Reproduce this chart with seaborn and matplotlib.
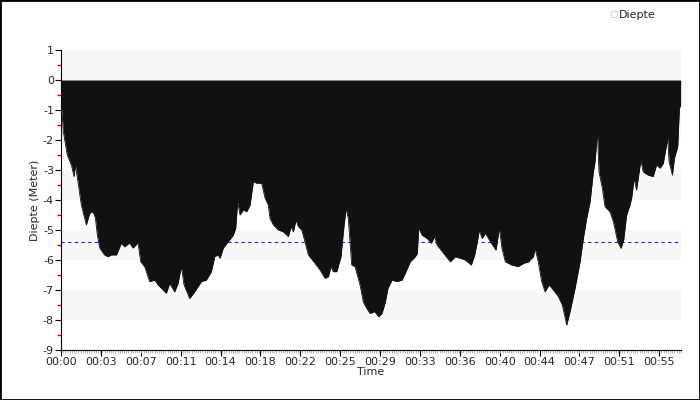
"""Dive profile: depth over time."""

import matplotlib

matplotlib.use("Agg")
import matplotlib.pyplot as plt
import seaborn as sns
from matplotlib.patches import Patch, Rectangle
from matplotlib.ticker import FuncFormatter, MultipleLocator

# minutes since start
times = [
    0.0, 0.12, 0.21, 0.58, 0.95, 1.2, 1.32, 1.56, 1.87, 2.33, 2.64, 2.94,
    3.16, 3.34, 3.56, 4.0, 4.32, 4.63, 5.09, 5.55, 5.85, 6.31, 6.62, 7.08,
    7.33, 7.69, 8.15, 8.61, 8.92, 9.68, 9.99, 10.45, 10.76, 11.06, 11.31,
    11.83, 12.29, 12.9, 13.36, 13.82, 14.13, 14.43, 14.62, 14.92, 15.38,
    15.84, 16.06, 16.24, 16.46, 16.76, 17.07, 17.38, 17.68, 17.99, 18.45,
    18.76, 19.06, 19.21, 19.52, 19.98, 20.44, 20.9, 21.15, 21.36, 21.6,
    21.82, 22.13, 22.43, 22.74, 23.35, 23.81, 24.27, 24.58, 24.82, 25.04,
    25.35, 25.74, 25.96, 26.2, 26.41, 26.73, 27.03, 27.49, 27.79, 28.1,
    28.41, 28.84, 29.2, 29.51, 29.82, 30.06, 30.43, 30.89, 31.35, 31.65,
    32.11, 32.57, 32.76, 32.88, 33.19, 33.65, 34.05, 34.35, 34.57, 35.18,
    35.79, 36.25, 36.71, 37.17, 37.72, 38.03, 38.25, 38.46, 38.71, 39.02,
    39.47, 39.99, 40.3, 40.54, 40.85, 41.46, 42.02, 42.54, 43.0, 43.12,
    43.43, 43.58, 43.88, 44.19, 44.5, 44.87, 45.26, 45.72, 46.09, 46.49,
    46.8, 47.26, 47.72, 48.02, 48.33, 48.64, 48.94, 49.1, 49.31, 49.46,
    49.77, 50.01, 50.47, 50.78, 51.18, 51.48, 51.73, 52.0, 52.3, 52.46,
    52.69, 52.91, 53.31, 53.52, 53.98, 54.44, 54.75, 55.07, 55.37, 55.78,
    55.9, 56.21, 56.39, 56.7, 56.85, 56.97,
]
# depth in meters (negative = below surface)
depths = [
    -0.75, -1.22, -1.72, -2.5, -2.83, -3.22, -2.83, -3.39, -4.17, -4.83,
    -4.44, -4.39, -4.6, -5.17, -5.6, -5.83, -5.89, -5.83, -5.83, -5.44,
    -5.56, -5.43, -5.6, -5.43, -6.06, -6.22, -6.72, -6.67, -6.83, -7.11,
    -6.78, -7.06, -6.78, -6.22, -6.83, -7.28, -7.06, -6.72, -6.67, -6.39,
    -5.89, -5.83, -5.94, -5.6, -5.39, -5.17, -4.94, -4.06, -4.5, -4.33,
    -4.39, -4.17, -3.39, -3.44, -3.44, -3.94, -4.17, -4.61, -4.83, -5.0,
    -5.06, -5.22, -4.89, -5.06, -4.67, -4.89, -5.0, -5.39, -5.83, -6.11,
    -6.33, -6.61, -6.56, -6.22, -6.39, -6.39, -5.89, -5.06, -4.28, -4.61,
    -6.17, -6.22, -6.83, -7.39, -7.61, -7.78, -7.72, -7.89, -7.78, -7.39,
    -6.94, -6.67, -6.72, -6.67, -6.44, -6.06, -5.89, -5.78, -4.94, -5.17,
    -5.28, -5.44, -5.22, -5.5, -5.78, -6.06, -5.89, -5.94, -6.0, -6.17,
    -5.83, -5.44, -5.0, -5.28, -5.11, -5.39, -5.67, -4.94, -5.61, -6.06,
    -6.17, -6.22, -6.11, -6.06, -6.0, -5.89, -5.61, -6.06, -6.72, -7.06,
    -6.83, -7.0, -7.22, -7.5, -8.17, -7.72, -6.94, -6.06, -5.28, -4.61,
    -4.06, -3.06, -2.72, -1.72, -3.06, -3.61, -4.22, -4.39, -4.72, -5.39,
    -5.61, -5.33, -4.5, -4.17, -3.94, -3.28, -3.67, -2.67, -3.06, -3.17,
    -3.22, -2.83, -2.94, -2.78, -1.94, -2.72, -3.17, -2.61, -2.22, -0.94,
    -0.85,
]
avg_depth = -5.4
band_tops = [1, -1, -3, -5, -7]

sns.set_theme(style="white")
plt.rcParams["font.family"] = ["DejaVu Sans"]
plt.rcParams["axes.unicode_minus"] = False

fig = plt.figure(figsize=(7, 4), dpi=100)
ax = fig.add_axes([61 / 700, 50 / 400, 620 / 700, 300 / 400])

for top in band_tops:
    ax.axhspan(top - 1, top, color="#f7f7f7", lw=0, zorder=0)
ax.axhline(avg_depth, color="#2020ff", lw=0.8, ls=(0, (3, 3)), zorder=1)

ax.fill_between(times, depths, 0, color="#111111", lw=0, zorder=2)
sns.lineplot(x=times, y=depths, color="#111111", lw=0.6, ax=ax, zorder=3)

ax.set_xlim(0, 57)
ax.set_ylim(-9, 1)

ax.xaxis.set_major_locator(MultipleLocator(11 / 3))
ax.xaxis.set_minor_locator(MultipleLocator(0.2))
ax.xaxis.set_major_formatter(FuncFormatter(lambda v, _: f"00:{int(v + 1e-6):02d}"))
ax.yaxis.set_major_locator(MultipleLocator(1))
ax.yaxis.set_minor_locator(MultipleLocator(0.5))

ax.tick_params(axis="both", which="major", direction="out", length=4, width=0.8,
               color="black", labelsize=8, pad=1, bottom=True, left=True)
ax.tick_params(axis="y", which="minor", direction="out", length=3, width=1.0,
               colors="#e00000", left=True)
ax.tick_params(axis="x", which="minor", direction="out", length=2, width=0.6,
               color="#aaaaaa", bottom=True)

for side in ["top", "right"]:
    ax.spines[side].set_visible(False)
for side in ["left", "bottom"]:
    ax.spines[side].set_color("black")
    ax.spines[side].set_linewidth(0.8)

ax.set_ylabel("Diepte (Meter)", fontsize=8, labelpad=2)
ax.set_xlabel("Time", fontsize=8, labelpad=0)

handle = Patch(facecolor="white", edgecolor="#cccccc", lw=0.6)
fig.legend([handle], ["Diepte"], loc="center left", bbox_to_anchor=(0.865, 0.962),
           frameon=False, fontsize=8, handlelength=0.5, handleheight=0.5,
           handletextpad=0.2, borderpad=0)

fig.patches.append(Rectangle((0, 0), 1, 1, transform=fig.transFigure,
                             fill=False, edgecolor="black", lw=2))

fig.savefig("out.png", dpi=100)
plt.close(fig)
